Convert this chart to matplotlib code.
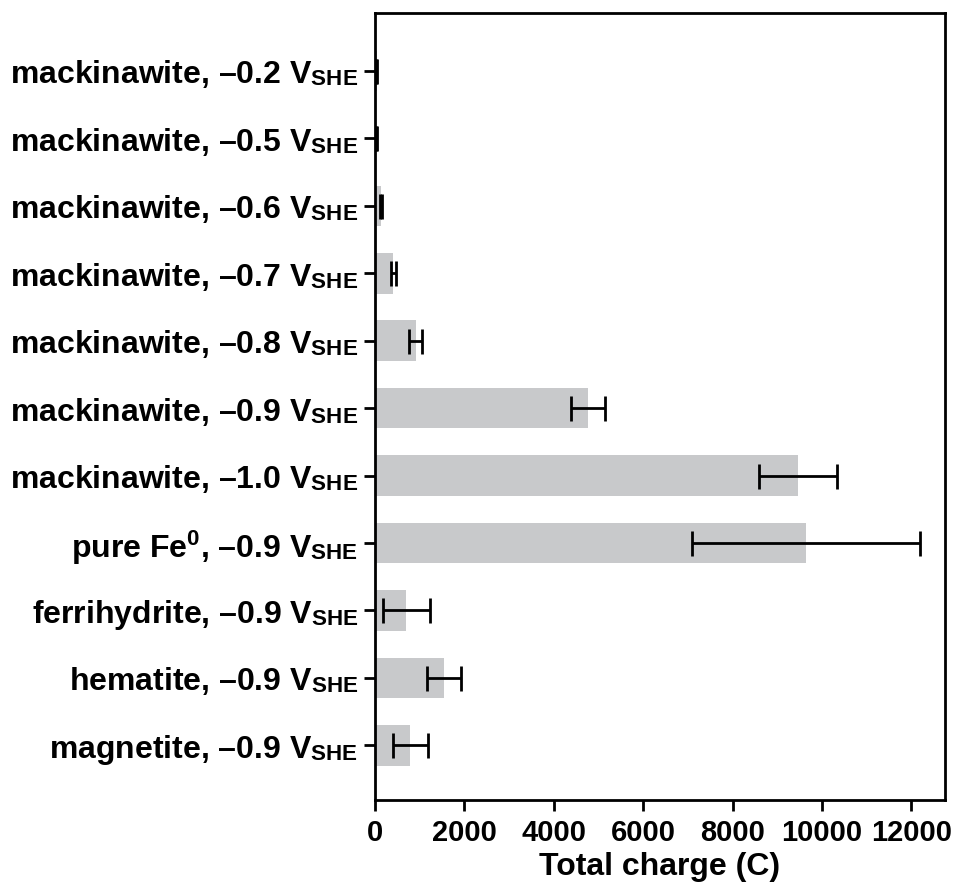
import numpy as np
import matplotlib
matplotlib.use('Agg')
import matplotlib.pyplot as plt
import matplotlib._mathtext as mt

plt.rcParams['font.family'] = 'Liberation Sans'
plt.rcParams['font.weight'] = 'bold'
plt.rcParams['mathtext.fontset'] = 'custom'
plt.rcParams['mathtext.rm'] = 'Liberation Sans:bold'
plt.rcParams['mathtext.bf'] = 'Liberation Sans:bold'
plt.rcParams['mathtext.it'] = 'Liberation Sans:bold'
# subindice un poco menos caido
mt.FontConstantsBase.sub1 = 0.12
mt.FontConstantsBase.sub2 = 0.2

# categories, top to bottom
etiquetas = [r'mackinawite, –0.2 $\mathbf{V_{SHE}}$',
             r'mackinawite, –0.5 $\mathbf{V_{SHE}}$',
             r'mackinawite, –0.6 $\mathbf{V_{SHE}}$',
             r'mackinawite, –0.7 $\mathbf{V_{SHE}}$',
             r'mackinawite, –0.8 $\mathbf{V_{SHE}}$',
             r'mackinawite, –0.9 $\mathbf{V_{SHE}}$',
             r'mackinawite, –1.0 $\mathbf{V_{SHE}}$',
             r'pure $\mathbf{Fe^{0}}$, –0.9 $\mathbf{V_{SHE}}$',
             r'ferrihydrite, –0.9 $\mathbf{V_{SHE}}$',
             r'hematite, –0.9 $\mathbf{V_{SHE}}$',
             r'magnetite, –0.9 $\mathbf{V_{SHE}}$']
carga = [40, 30, 130, 410, 910, 4760, 9460, 9650, 700, 1540, 790]
error = [10, 10, 15, 60, 140, 385, 875, 2550, 520, 385, 385]

n = len(etiquetas)
pos = np.arange(n)[::-1]

fig = plt.figure(figsize=(9.55, 8.88), dpi=100)
ax = fig.add_axes([0.3927, 0.0991, 0.5968, 0.8863])

ax.barh(pos, carga, height=0.6, color='#c8c9cb', xerr=error,
        error_kw=dict(ecolor='black', elinewidth=2, capsize=9, capthick=2))

ax.set_yticks(pos)
ax.set_yticklabels(etiquetas, fontsize=23, fontweight='bold')
ax.set_ylim(-0.81, n - 1 + 0.86)
ax.set_xlim(0, 12750)
ax.set_xticks(np.arange(0, 12001, 2000))
ax.tick_params(axis='x', labelsize=21, width=2, length=8, pad=6)
ax.tick_params(axis='y', width=2, length=8, pad=4)
for lab in ax.get_xticklabels():
    lab.set_fontweight('bold')
ax.set_xlabel('Total charge (C)', fontsize=23, fontweight='bold', labelpad=3)

for s in ax.spines.values():
    s.set_linewidth(2)

fig.savefig('out.png', dpi=100)
